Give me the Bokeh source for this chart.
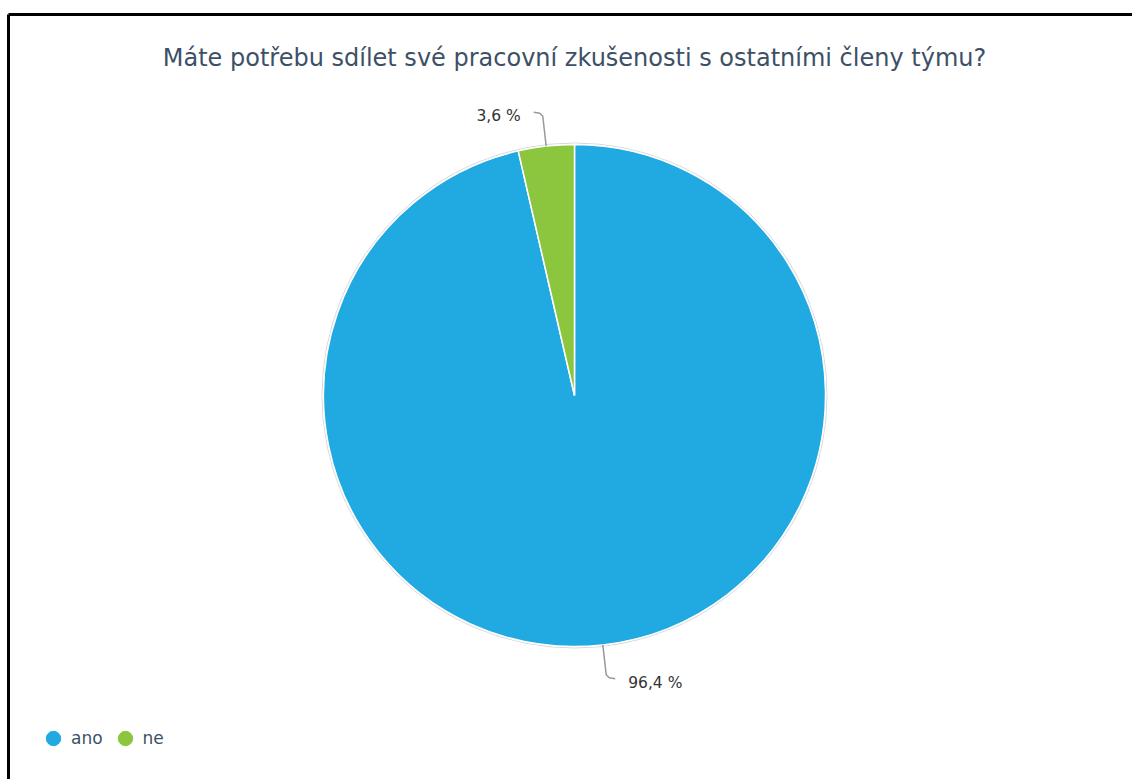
import math
from bokeh.plotting import figure
from bokeh.models import Range1d, ColumnDataSource, Legend, LegendItem
from bokeh.core.properties import value
from bokeh.embed import file_html
from bokeh.resources import INLINE

# ---- data ----
categories = ["ano", "ne"]
shares = [96.4, 3.6]
labels = ["96,4 %", "3,6 %"]
colors = ["#21a9e1", "#8cc63f"]
title_text = "Máte potřebu sdílet své pracovní zkušenosti s ostatními členy týmu?"

W, H = 1132, 779
CX, CY, R = 574, H - 395, 251

p = figure(width=W, height=H, output_backend="svg", toolbar_location=None,
           x_range=Range1d(0, W), y_range=Range1d(0, H),
           min_border=0, min_border_left=0, min_border_right=0,
           min_border_top=0, min_border_bottom=0)
p.axis.visible = False
p.xgrid.visible = False
p.ygrid.visible = False
p.outline_line_color = None
p.background_fill_color = "white"
p.border_fill_color = "white"

# frame border (left + top)
p.segment(x0=[8, 8], y0=[H - 14, H - 14], x1=[8, W + 5], y1=[-5, H - 14],
          line_color="black", line_width=3)

# wedges: start at 12 o'clock, "ano" clockwise, "ne" fills the rest
total = sum(shares)
starts, ends, mids = [], [], []
a = math.pi / 2
for s in shares:
    sweep = 2 * math.pi * s / total
    starts.append(a - sweep)
    ends.append(a)
    mids.append(a - sweep / 2)
    a -= sweep

src = ColumnDataSource(dict(cat=categories, start=starts, end=ends, color=colors))
p.circle(x=[CX], y=[CY], radius=R + 1.5, fill_color=None, line_color="#d8d8d8", line_width=1)
wr = p.wedge(x=CX, y=CY, radius=R, start_angle="start", end_angle="end",
             fill_color="color", line_color="white", line_width=1.5, source=src)

# connectors and labels
for lab, m in zip(labels, mids):
    ex, ey = CX + R * math.cos(m), CY + R * math.sin(m)
    kx, ky = CX + (R + 30) * math.cos(m), CY + (R + 30) * math.sin(m)
    side = 1 if math.cos(m) >= 0 else -1
    up = 1 if math.sin(m) >= 0 else -1
    p.line(x=[ex, kx, kx + side * 3, kx + side * 9], y=[ey, ky, ky + up * 3, ky + up * 4],
           line_color="#999999", line_width=1.5)
    tx = kx + side * 22
    ty = ky if up > 0 else ky - 8
    p.text(x=[tx], y=[ty], text=[lab],
           text_align="left" if side > 0 else "right", text_baseline="middle",
           text_font=value("DejaVu Sans"), text_font_size="15.5px", text_color="#333333")

# title
p.text(x=[CX], y=[H - 57], text=[title_text], text_align="center", text_baseline="middle",
       text_font=value("DejaVu Sans"), text_font_size="24px", text_color="#3d5066")

# legend with round markers (dummy points outside the visible range)
items = []
for cat, col in zip(categories, colors):
    r = p.scatter(x=[-1000], y=[-1000], marker="circle", size=14, fill_color=col, line_color=col)
    items.append(LegendItem(label=cat, renderers=[r]))
legend = Legend(items=items, orientation="horizontal", location=(35, H - 756),
                padding=0, margin=0, spacing=4, label_standoff=-6,
                glyph_width=36, glyph_height=36,
                label_text_font="DejaVu Sans", label_text_font_size="17px",
                label_text_color="#3d5066", border_line_color=None,
                background_fill_alpha=0)
p.add_layout(legend, "center")

open("out.html", "w").write(file_html(p, INLINE))
